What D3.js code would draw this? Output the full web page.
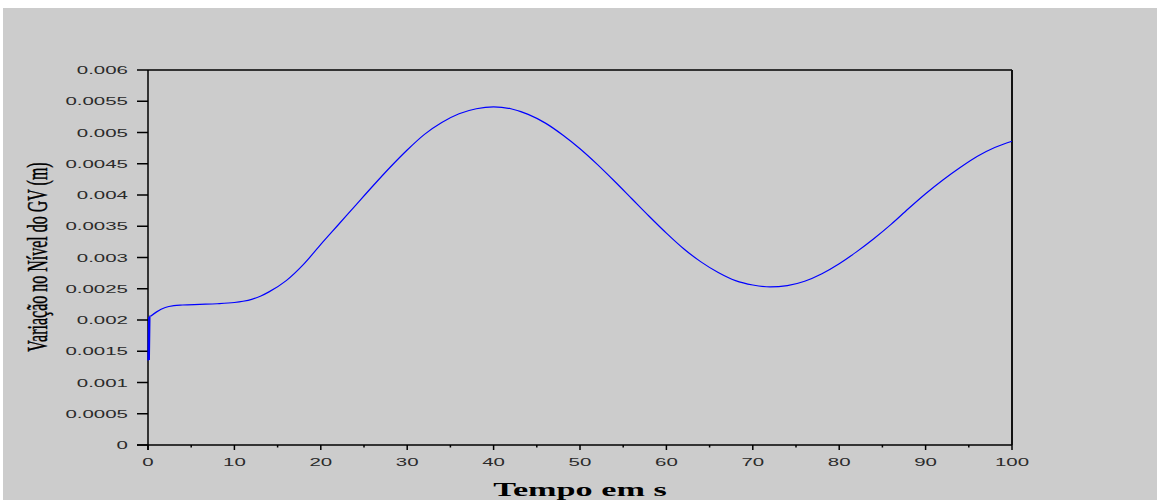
<!DOCTYPE html>
<html>
<head>
<meta charset="utf-8">
<script src="https://cdn.jsdelivr.net/npm/d3@7"></script>
<style>
  html, body { margin: 0; padding: 0; background: #ffffff; }
  svg { display: block; }
</style>
</head>
<body>
<svg id="chart" width="1157" height="502"></svg>
<script>
// ---- data ----
const time = [0, 0.08, 0.15, 0.22, 0.3, 1, 2, 3, 4, 6, 8, 10, 11, 12, 13, 14, 16, 18, 20, 22, 24, 26, 28, 30, 32, 34, 36, 38, 40,
  42, 44, 46, 48, 50, 52, 54, 56, 58, 60, 62, 64, 66, 68, 70, 72, 74, 76, 78, 80, 82, 84, 86, 88, 90, 92, 94, 96, 98, 100];
const level = [0.00135, 0.00205, 0.00136, 0.00206, 0.00206, 0.00213, 0.00220, 0.00223, 0.00224, 0.00225, 0.00226, 0.00228, 0.00230, 0.00233, 0.00238,
  0.00245, 0.00263, 0.00289, 0.00321, 0.00352, 0.00383, 0.00414, 0.00444, 0.00472, 0.00497, 0.00516, 0.00530, 0.00538, 0.00541,
  0.00538, 0.00529, 0.00515, 0.00496, 0.00474, 0.00449, 0.00422, 0.00394, 0.00366, 0.00339, 0.00314, 0.00293, 0.00276, 0.00263,
  0.00256, 0.00253, 0.00255, 0.00262, 0.00274, 0.00290, 0.00309, 0.00330, 0.00353, 0.00378, 0.00402, 0.00424, 0.00444, 0.00462,
  0.00476, 0.00486];
const xTicks = [0, 10, 20, 30, 40, 50, 60, 70, 80, 90, 100];
const xMinorTicks = [5, 15, 25, 35, 45, 55, 65, 75, 85, 95];
const yTicks = [0, 0.0005, 0.001, 0.0015, 0.002, 0.0025, 0.003, 0.0035, 0.004, 0.0045, 0.005, 0.0055, 0.006];
const xTitle = "Tempo em s";
const yTitle = "Variação no Nível do GV (m)";

(function () {
  const svg = d3.select("#chart");
  const pl = 148, pr = 1012, pt = 70, pb = 445;
  const x = d3.scaleLinear().domain([0, 100]).range([pl, pr]);
  const y = d3.scaleLinear().domain([0, 0.006]).range([pb, pt]);
  const STRETCH = 1.78;

  svg.append("rect").attr("x", 3).attr("y", 8).attr("width", 1154).attr("height", 492).attr("fill", "#cccccc");

  // frame (top and right)
  svg.append("line").attr("x1", pl).attr("x2", pr).attr("y1", pt).attr("y2", pt)
    .attr("stroke", "#000").attr("stroke-width", 1.5);
  svg.append("line").attr("x1", pr).attr("x2", pr).attr("y1", pt).attr("y2", pb)
    .attr("stroke", "#111").attr("stroke-width", 2);

  // y axis
  const yAxis = svg.append("g");
  yAxis.append("line").attr("x1", pl).attr("x2", pl).attr("y1", pt).attr("y2", pb + 5)
    .attr("stroke", "#000").attr("stroke-width", 1.5);
  yAxis.selectAll("line.tick").data(yTicks).enter().append("line").attr("class", "tick")
    .attr("x1", pl - 11).attr("x2", pl).attr("y1", d => y(d)).attr("y2", d => y(d))
    .attr("stroke", "#000").attr("stroke-width", 1.5);
  yAxis.selectAll("text").data(yTicks).enter().append("text")
    .attr("transform", d => `translate(128,${y(d) + 4}) scale(${STRETCH},1)`)
    .attr("text-anchor", "end")
    .attr("font-family", "Liberation Sans, Arial, sans-serif")
    .attr("font-size", 11.5)
    .attr("fill", "#2a2a2a")
    .text(d => String(d));

  // x axis
  const xAxis = svg.append("g");
  xAxis.append("line").attr("x1", pl - 11).attr("x2", pr).attr("y1", pb).attr("y2", pb)
    .attr("stroke", "#000").attr("stroke-width", 1.5);
  xAxis.selectAll("line.major").data(xTicks).enter().append("line").attr("class", "major")
    .attr("x1", d => x(d)).attr("x2", d => x(d)).attr("y1", pb).attr("y2", pb + 5)
    .attr("stroke", "#000").attr("stroke-width", 1.5);
  xAxis.selectAll("line.minor").data(xMinorTicks).enter().append("line").attr("class", "minor")
    .attr("x1", d => x(d)).attr("x2", d => x(d)).attr("y1", pb).attr("y2", pb + 2.5)
    .attr("stroke", "#000").attr("stroke-width", 1.5);
  xAxis.selectAll("text").data(xTicks).enter().append("text")
    .attr("transform", d => `translate(${x(d)},466) scale(${STRETCH},1)`)
    .attr("text-anchor", "middle")
    .attr("font-family", "Liberation Sans, Arial, sans-serif")
    .attr("font-size", 11.5)
    .attr("fill", "#2a2a2a")
    .text(d => String(d));

  // titles
  svg.append("text")
    .attr("transform", `translate(580,496) scale(1.8,1)`)
    .attr("text-anchor", "middle")
    .attr("font-family", "Liberation Serif, Times New Roman, serif")
    .attr("font-weight", "bold")
    .attr("font-size", 19)
    .attr("fill", "#000")
    .text(xTitle);

  svg.append("text")
    .attr("transform", `translate(47,257) rotate(-90) scale(1,1.8)`)
    .attr("text-anchor", "middle")
    .attr("font-family", "Liberation Serif, Times New Roman, serif")
    .attr("font-size", 16)
    .attr("fill", "#000")
    .attr("stroke", "#000").attr("stroke-width", 0.25)
    .text(yTitle);

  // series
  const pts = time.map((t, i) => [t, level[i]]);
  const spike = pts.slice(0, 5);
  const smooth = pts.slice(4);
  svg.append("path")
    .attr("d", d3.line().x(d => x(d[0])).y(d => y(d[1]))(spike))
    .attr("fill", "none").attr("stroke", "#0000ff").attr("stroke-width", 1.3);
  svg.append("path")
    .attr("d", d3.line().x(d => x(d[0])).y(d => y(d[1])).curve(d3.curveMonotoneX)(smooth))
    .attr("fill", "none").attr("stroke", "#0000ff").attr("stroke-width", 1.2);
})();
</script>
</body>
</html>
